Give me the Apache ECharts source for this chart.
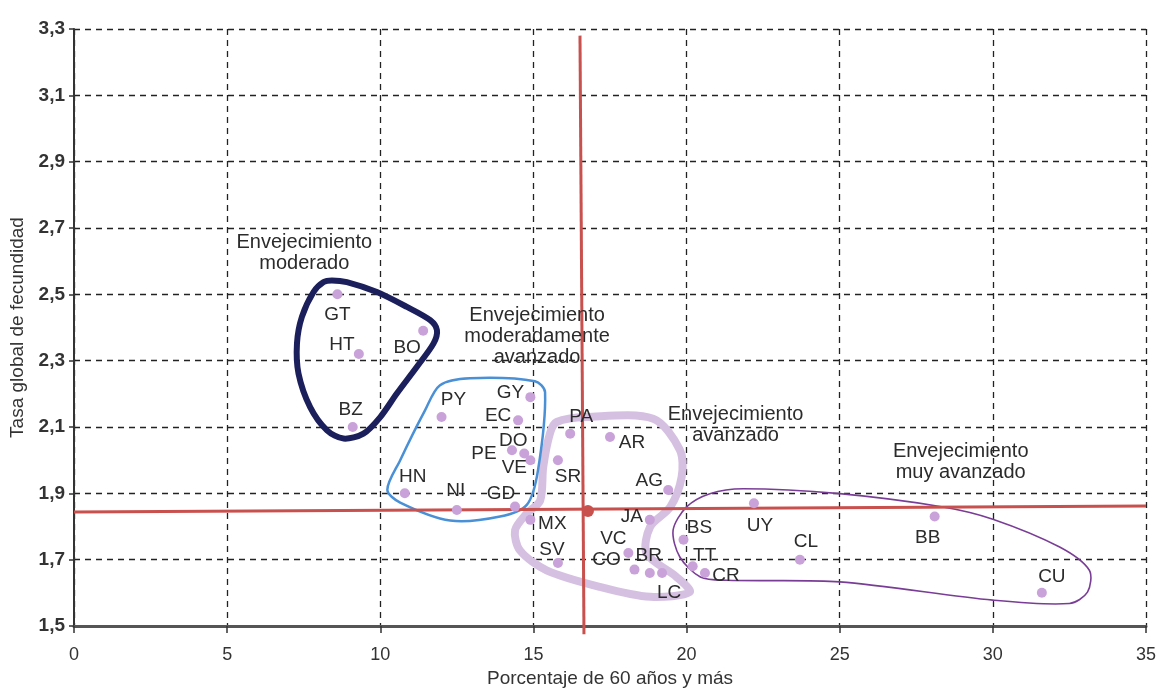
<!DOCTYPE html>
<html>
<head>
    <meta charset="utf-8"/>
    <title>Tasa global de fecundidad y envejecimiento</title>
    <script src="https://cdn.jsdelivr.net/npm/echarts@6/dist/echarts.min.js"></script>
    <style>
        html, body { margin: 0; padding: 0; background: #fff; }
        #chart { width: 1162px; height: 688px; }
    </style>
</head>
<body>
<div id="chart"></div>
<script>
    // paises, % de 60 anos y mas, tasa global de fecundidad
    var codes = ['GT', 'HT', 'BO', 'BZ', 'PY', 'GY', 'EC', 'PE', 'DO', 'VE', 'HN', 'NI', 'GD', 'MX', 'SV',
        'PA', 'SR', 'AR', 'AG', 'JA', 'VC', 'CO', 'BR', 'LC', 'BS', 'TT', 'CR', 'UY', 'CL', 'BB', 'CU'];
    var pct60 = [8.6, 9.3, 11.4, 9.1, 12.0, 14.9, 14.5, 14.3, 14.7, 14.9, 10.8, 12.5, 14.4, 14.9, 15.8,
        16.2, 15.8, 17.5, 19.4, 18.8, 18.1, 18.3, 18.8, 19.2, 19.9, 20.2, 20.6, 22.2, 23.7, 28.1, 31.6];
    var tgf = [2.50, 2.32, 2.39, 2.10, 2.13, 2.19, 2.12, 2.03, 2.02, 2.00, 1.90, 1.85, 1.86, 1.82, 1.69,
        2.08, 2.00, 2.07, 1.91, 1.82, 1.72, 1.67, 1.66, 1.66, 1.76, 1.68, 1.66, 1.87, 1.70, 1.83, 1.60];

    // promedio regional (lineas rojas)
    var avgPoint = [16.78, 1.847];
    var avgLineH = [[0, 1.844], [35, 1.862]];
    var avgLineV = [[16.52, 3.28], [16.65, 1.475]];

    // grupos
    var groupNames = ['Envejecimiento\nmoderado', 'Envejecimiento\nmoderadamente\navanzado',
        'Envejecimiento\navanzado', 'Envejecimiento\nmuy avanzado'];
    var groupTextAt = [[7.52, 2.624], [15.12, 2.373], [21.6, 2.105], [28.95, 1.994]];

    // contornos de los grupos
    var blobModerado = [[8.42, 2.542], [8.91, 2.537], [9.89, 2.507], [10.87, 2.462], [11.63, 2.422],
        [11.85, 2.392], [11.74, 2.352], [11.19, 2.281], [10.54, 2.201], [10.0, 2.13], [9.45, 2.08],
        [8.8, 2.065], [8.26, 2.09], [7.71, 2.16], [7.33, 2.261], [7.28, 2.352], [7.44, 2.432],
        [7.82, 2.507], [8.15, 2.537]];
    var blobModAvanzado = [[11.95, 2.226], [12.93, 2.247], [15.05, 2.238], [15.38, 2.205], [15.15, 1.97],
        [14.79, 1.866], [13.91, 1.83], [12.28, 1.818], [10.65, 1.872], [10.23, 1.911], [10.65, 2.0], [11.46, 2.15]];
    var blobAvanzado = [[15.76, 2.115], [16.74, 2.13], [18.91, 2.125], [19.78, 2.031], [19.84, 1.95],
        [19.47, 1.859], [18.81, 1.799], [18.7, 1.718], [19.67, 1.648], [20.1, 1.602], [18.81, 1.588],
        [17.17, 1.618], [15.43, 1.668], [14.56, 1.728], [14.4, 1.789], [14.78, 1.839], [15.22, 1.878],
        [15.32, 1.98], [15.54, 2.081]];
    var blobMuyAvanzado = [[20.76, 1.899], [21.85, 1.914], [25.0, 1.899], [28.37, 1.859], [30.0, 1.822],
        [32.18, 1.738], [33.15, 1.668], [33.09, 1.602], [32.5, 1.568], [30.0, 1.578], [25.0, 1.633],
        [21.3, 1.638], [20.45, 1.648], [19.78, 1.708], [19.56, 1.789], [20.0, 1.859]];

    // desplazamiento de las etiquetas (px)
    var labelOffset = {
        GT: [0, 20], HT: [-17, -9], BO: [-16, 17], BZ: [-2, -17], PY: [12, -17], GY: [-20, -4], EC: [-20, -5],
        PE: [-28, 4], DO: [-11, -13], VE: [-16, 8], HN: [8, -17], NI: [-1, -19], GD: [-14, -13], MX: [22, 4],
        SV: [-6, -13], PA: [11, -17], SR: [10, 17], AR: [22, 6], AG: [-19, -9], JA: [-18, -3], VC: [-15, -14],
        CO: [-28, -10], BR: [-1, -17], LC: [7, 20], BS: [16, -12], TT: [12, -11], CR: [21, 3], UY: [6, 22],
        CL: [6, -18], BB: [-7, 21], CU: [10, -16]
    };

    function blob(points, color, width) {
        return {
            type: 'custom',
            coordinateSystem: 'cartesian2d',
            silent: true,
            clip: false,
            z: 2,
            data: [points[0]],
            renderItem: function (params, api) {
                return {
                    type: 'polygon',
                    shape: {
                        points: points.map(function (p) { return api.coord(p); }),
                        smooth: 0.3
                    },
                    style: {fill: 'none', stroke: color, lineWidth: width}
                };
            }
        };
    }

    var pointData = codes.map(function (c, i) {
        return {
            name: c,
            value: [pct60[i], tgf[i]],
            label: {offset: labelOffset[c]}
        };
    });

    var groupData = groupNames.map(function (n, i) {
        return {name: n, value: groupTextAt[i]};
    });

    var chart = echarts.init(document.getElementById('chart'));
    var option = {
        animation: false,
        textStyle: {fontFamily: 'Liberation Sans, Arial, sans-serif'},
        grid: {left: 74, right: 16, top: 29, bottom: 62, outerBoundsMode: 'none'},
        xAxis: {
            type: 'value',
            min: 0,
            max: 35,
            interval: 5,
            name: 'Porcentaje de 60 años y más',
            nameLocation: 'middle',
            nameGap: 42,
            nameTextStyle: {fontSize: 19, color: '#333'},
            axisLine: {onZero: false, lineStyle: {color: '#555', width: 3}},
            axisTick: {length: 7, lineStyle: {color: '#333', width: 1.5}},
            axisLabel: {fontSize: 18, color: '#333', margin: 20},
            splitLine: {lineStyle: {type: [6, 5], color: '#222', width: 1.3}}
        },
        yAxis: {
            type: 'value',
            min: 1.5,
            max: 3.3,
            interval: 0.2,
            name: 'Tasa global de fecundidad',
            nameLocation: 'middle',
            nameRotate: 90,
            nameGap: 44,
            nameTextStyle: {fontSize: 19, color: '#333'},
            axisLine: {show: true, onZero: false, lineStyle: {color: '#333', width: 2}},
            axisTick: {show: true, length: 5, lineStyle: {color: '#333', width: 1.5}},
            axisLabel: {
                fontSize: 19, fontWeight: 'bold', color: '#333', margin: 9,
                formatter: function (v) { return v.toFixed(1).replace('.', ','); }
            },
            splitLine: {lineStyle: {type: [6, 5], color: '#222', width: 1.3}}
        },
        series: [
            blob(blobAvanzado, '#d6c0e2', 8),
            blob(blobModerado, '#1b1f5c', 6),
            blob(blobModAvanzado, '#4a90d6', 2.5),
            blob(blobMuyAvanzado, '#7a3d96', 1.6),
            {
                type: 'line',
                data: avgLineH,
                symbol: 'none',
                silent: true,
                z: 3,
                lineStyle: {color: '#c8504d', width: 3}
            },
            {
                type: 'line',
                data: avgLineV,
                symbol: 'none',
                silent: true,
                clip: false,
                z: 3,
                lineStyle: {color: '#c8504d', width: 3}
            },
            {
                type: 'scatter',
                data: [avgPoint],
                symbolSize: 12,
                silent: true,
                z: 4,
                itemStyle: {color: '#c8504d', opacity: 1}
            },
            {
                type: 'scatter',
                data: pointData,
                symbolSize: 10,
                z: 5,
                itemStyle: {color: '#c9a2d9', opacity: 1},
                label: {
                    show: true,
                    position: 'inside',
                    formatter: '{b}',
                    fontSize: 19,
                    color: '#2b2b2b'
                }
            },
            {
                type: 'scatter',
                data: groupData,
                symbolSize: 0,
                silent: true,
                z: 6,
                itemStyle: {opacity: 1},
                label: {
                    show: true,
                    position: 'inside',
                    formatter: '{b}',
                    fontSize: 20,
                    lineHeight: 21,
                    color: '#2b2b2b'
                }
            }
        ]
    };
    chart.setOption(option);
</script>
</body>
</html>
